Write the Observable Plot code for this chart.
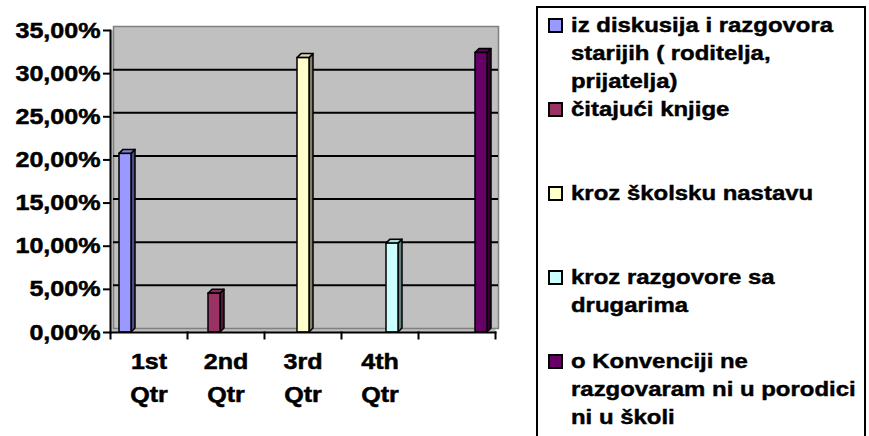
<!DOCTYPE html>
<html>
<head>
<meta charset="utf-8">
<script src="https://cdn.jsdelivr.net/npm/d3@7"></script>
<script src="https://cdn.jsdelivr.net/npm/@observablehq/plot@0.6"></script>
<style>
  html, body { margin: 0; padding: 0; background: #fff; }
  #wrap { position: relative; width: 869px; height: 436px; overflow: hidden; font-family: "Liberation Sans", Arial, sans-serif; }
  #chart { position: absolute; left: 0; top: 0; }
  #chart svg text { stroke: #000; stroke-width: 0.5px; }
  #legend { position: absolute; left: 536px; top: 6px; width: 330px; height: 460px; box-sizing: border-box; border: 2px solid #000; }
  .item { position: absolute; left: 33px; font-size: 21px; font-weight: bold; line-height: 28px; white-space: nowrap; color: #000; }
  .txt { display: inline-block; transform: scaleX(1.14); transform-origin: 0 0; -webkit-text-stroke: 0.45px #000; }
  .sw { position: absolute; left: -23px; top: 7px; width: 15px; height: 15px; box-sizing: border-box; border: 2px solid #000; }
</style>
</head>
<body>
<div id="wrap">
  <div id="chart"></div>
  <div id="legend"></div>
</div>
<script>
const quarters = ["1st Qtr", "2nd Qtr", "3rd Qtr", "4th Qtr", ""];
const seriesNames = [
  "iz diskusija i razgovora starijih ( roditelja, prijatelja)",
  "čitajući knjige",
  "kroz školsku nastavu",
  "kroz razgovore sa drugarima",
  "o Konvenciji ne razgovaram ni u porodici ni u školi"
];
const legendLines = [
  ["iz diskusija i razgovora", "starijih ( roditelja,", "prijatelja)"],
  ["čitajući knjige"],
  ["kroz školsku nastavu"],
  ["kroz razgovore sa", "drugarima"],
  ["o Konvenciji ne", "razgovaram ni u porodici", "ni u školi"]
];
const values = [20.7, 4.5, 31.8, 10.3, 32.4];
const colors = ["#9999ff", "#993366", "#ffffcc", "#ccffff", "#660066"];
const yTicks = [0, 5, 10, 15, 20, 25, 30, 35];

const rows = quarters.map((q, i) => ({quarter: q, series: seriesNames[i], value: values[i]}));

const D = 4;
function bar3d(index, scales, vals, dims, ctx, next) {
  const g = next(index, scales, vals, dims, ctx);
  d3.select(g).selectAll("rect").each(function() {
    const r = d3.select(this);
    const x = +r.attr("x"), y = +r.attr("y"), w = +r.attr("width"), h = +r.attr("height");
    const c = d3.rgb(r.attr("fill"));
    const dark = d3.rgb(c.r * 0.5, c.g * 0.5, c.b * 0.5).formatHex();
    const top = d3.rgb(c.r * 0.85, c.g * 0.85, c.b * 0.85).formatHex();
    const ns = "http://www.w3.org/2000/svg";
    const side = document.createElementNS(ns, "polygon");
    side.setAttribute("points", `${x + w},${y} ${x + w + D},${y - D} ${x + w + D},${y + h - D} ${x + w},${y + h}`);
    side.setAttribute("fill", dark);
    side.setAttribute("stroke", "#000");
    side.setAttribute("stroke-width", "1.5");
    side.setAttribute("stroke-linejoin", "round");
    const tp = document.createElementNS(ns, "polygon");
    tp.setAttribute("points", `${x},${y} ${x + D},${y - D} ${x + w + D},${y - D} ${x + w},${y}`);
    tp.setAttribute("fill", top);
    tp.setAttribute("stroke", "#000");
    tp.setAttribute("stroke-width", "1.5");
    tp.setAttribute("stroke-linejoin", "round");
    this.parentNode.insertBefore(side, this);
    this.parentNode.insertBefore(tp, this);
  });
  return g;
}

const fmt = d => d.toFixed(2).replace(".", ",") + "%";

const plot = Plot.plot({
  width: 520,
  height: 436,
  marginLeft: 110,
  marginRight: 25,
  marginTop: 30,
  marginBottom: 104,
  style: {fontFamily: "'Liberation Sans', Arial, sans-serif", background: "white", overflow: "visible"},
  fx: {domain: quarters, padding: 0, label: null},
  x: {domain: seriesNames, paddingInner: 0, paddingOuter: 0.7, axis: null},
  y: {domain: [0, 35], label: null},
  color: {domain: seriesNames, range: colors},
  marks: [
    Plot.frame({facet: "super", fill: "#c0c0c0", stroke: null}),
    Plot.frame({facet: "super", fill: "#c0c0c0", stroke: "#808080", strokeWidth: 1.5, dx: 3, dy: -4}),
    Plot.ruleY(yTicks.filter(d => d > 0 && d < 35), {stroke: "#000", strokeWidth: 2, dx: 3, dy: -4}),
    Plot.barY(rows, {fx: "quarter", x: "series", y: "value", fill: "series", stroke: "#000", strokeWidth: 1.5, render: bar3d}),
    Plot.frame({facet: "super", anchor: "left", stroke: "#000", strokeWidth: 2}),
    Plot.frame({facet: "super", anchor: "bottom", stroke: "#000", strokeWidth: 2}),
    Plot.frame({anchor: "left", stroke: "#000", strokeWidth: 2, insetTop: 302, insetBottom: -6}),
    Plot.frame({facet: "super", anchor: "right", stroke: "#000", strokeWidth: 2, insetTop: 302, insetBottom: -6}),
    Plot.axisY({ticks: yTicks, tickFormat: fmt, tickSize: 7, tickPadding: 3, strokeWidth: 2, fontSize: 22, fontWeight: "bold", fill: "#000", label: null}),
    Plot.axisFx({anchor: "bottom", tickSize: 0, tickPadding: 13, tickFormat: d => d.replace(" ", "\n"), lineHeight: 1.5, fontSize: 22, fontWeight: "bold", fill: "#000", label: null})
  ]
});
// widen glyphs horizontally like the original rendering, around each label's anchor
plot.querySelectorAll("text").forEach(t => {
  const tr = t.getAttribute("transform");
  if (tr) t.setAttribute("transform", tr + " scale(1.14,1)");
});
document.getElementById("chart").appendChild(plot);

const legend = document.getElementById("legend");
legendLines.forEach((lines, i) => {
  const item = document.createElement("div");
  item.className = "item";
  item.style.top = (3 + i * 84) + "px";
  const sw = document.createElement("div");
  sw.className = "sw";
  sw.style.background = colors[i];
  item.appendChild(sw);
  const txt = document.createElement("span");
  txt.className = "txt";
  lines.forEach((t, j) => {
    if (j) txt.appendChild(document.createElement("br"));
    txt.appendChild(document.createTextNode(t));
  });
  item.appendChild(txt);
  legend.appendChild(item);
});
</script>
</body>
</html>
